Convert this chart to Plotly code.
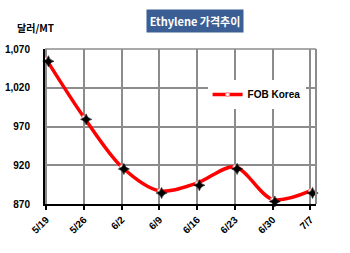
import plotly.graph_objects as go

dates = ["5/19", "5/26", "6/2", "6/9", "6/16", "6/23", "6/30", "7/7"]
fob_korea = [1057, 982, 918, 887, 897, 918, 876, 887]
y_ticks = [870, 920, 970, 1020, 1070]
y_tick_labels = ["870", "920", "970", "1,020", "1,070"]

xpos = list(range(len(dates)))
xr = [-0.03, 7.15]
yr = [870, 1070]
# overlay axes shifted by a couple of pixels for the offset black markers
dx = 0.06
dy = 2.8

fig = go.Figure()
fig.add_trace(go.Scatter(
    x=xpos, y=fob_korea, mode="lines+markers", name="FOB Korea",
    line=dict(color="#ff0000", width=3.5, shape="spline", smoothing=0.9),
    marker=dict(symbol="circle", size=4, color="white",
                line=dict(color="#ff8080", width=1)),
    cliponaxis=False,
))
fig.add_trace(go.Scatter(
    x=xpos, y=fob_korea, mode="markers", showlegend=False,
    xaxis="x2", yaxis="y2",
    marker=dict(symbol="star-diamond", size=8, color="black",
                line=dict(color="black", width=0.5)),
    cliponaxis=False,
))

font_b = dict(family="Liberation Sans, Arial", size=10, color="black", weight="bold")

fig.update_layout(
    width=350, height=253,
    margin=dict(l=45, r=34, t=49, b=49, autoexpand=False),
    paper_bgcolor="white", plot_bgcolor="white",
    showlegend=True,
    legend=dict(x=0.6, y=0.8, xanchor="left", yanchor="top",
                bgcolor="white", borderwidth=0,
                font=dict(family="Liberation Sans, Arial", size=10, color="black", weight="bold"),
                itemwidth=30, tracegroupgap=0),
    xaxis=dict(
        range=xr, tickmode="array", tickvals=xpos, ticktext=dates,
        tickangle=-45, tickfont=font_b, automargin=False,
        showgrid=True, gridcolor="#8c8c8c", gridwidth=1.5,
        showline=True, linecolor="black", linewidth=2,
        ticks="outside", ticklen=4, tickcolor="black", tickwidth=1.5,
        mirror=False, zeroline=False, fixedrange=True,
    ),
    yaxis=dict(
        range=yr, tickmode="array", tickvals=y_ticks, ticktext=y_tick_labels,
        tickfont=font_b, automargin=False,
        showgrid=True, gridcolor="#8c8c8c", gridwidth=1.5,
        showline=True, linecolor="black", linewidth=2,
        ticks="outside", ticklen=11, tickcolor="rgba(0,0,0,0)",
        zeroline=False, fixedrange=True,
    ),
    xaxis2=dict(range=[xr[0] - dx, xr[1] - dx], overlaying="x", visible=False, fixedrange=True),
    yaxis2=dict(range=[yr[0] + dy, yr[1] + dy], overlaying="y", visible=False, fixedrange=True),
    shapes=[
        dict(type="line", xref="paper", yref="paper", x0=0, x1=1, y0=1, y1=1,
             line=dict(color="#8c8c8c", width=1.5)),
        dict(type="line", xref="paper", yref="paper", x0=1, x1=1, y0=0, y1=1,
             line=dict(color="#8c8c8c", width=2)),
    ],
    annotations=[
        dict(text="Ethylene 가격추이", xref="paper", yref="paper",
             x=0.553, y=1.178, xanchor="center", yanchor="middle", showarrow=False,
             font=dict(family="Noto Sans CJK KR", size=11, color="white", weight="bold"),
             bgcolor="#3b5e94", borderpad=3, width=90),
        dict(text="달러/MT", xref="paper", yref="paper",
             x=-0.11, y=1.08, xanchor="left", yanchor="bottom", showarrow=False,
             font=dict(family="Noto Sans CJK KR", size=10, color="black", weight="bold")),
    ],
)

fig.write_html("out.html")
